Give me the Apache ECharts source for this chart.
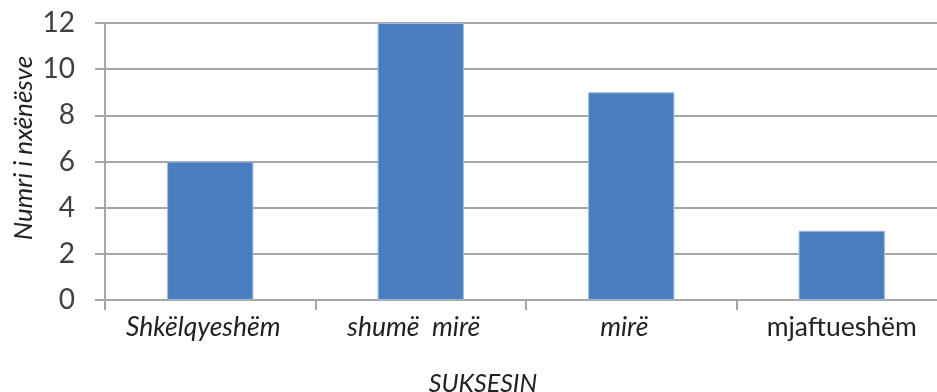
<!DOCTYPE html>
<html>
<head>
<meta charset="utf-8">
<script src="https://cdn.jsdelivr.net/npm/echarts@6/dist/echarts.min.js"></script>
<style>
  html, body { margin: 0; padding: 0; background: #fff; overflow: hidden; width: 937px; height: 392px; }
  /* canvas is a little wider than the page: the plot runs off the right edge */
  #chart { width: 947px; height: 392px; }
</style>
</head>
<body>
<div id="chart"></div>
<script>
// Grades and number of pupils in each
const categories = ['Shkëlqyeshëm', 'shumë  mirë', 'mirë', 'mjaftueshëm'];
const pupils = [6, 12, 9, 3];
const yTicks = { min: 0, max: 12, interval: 2 };
const yTitle = 'Numri i nxënësve';
const xTitle = 'SUKSESIN';

const FONT = 'Lato';
const TEXT = '#222222';
const GRID = '#a6a6a6';

const chart = echarts.init(document.getElementById('chart'), null, { renderer: 'canvas' });
chart.setOption({
  animation: false,
  backgroundColor: '#ffffff',
  grid: { left: 105, top: 23, right: 0, bottom: 92, containLabel: false },
  title: {
    text: xTitle,
    left: 478, top: 366,
    textAlign: 'center',
    textStyle: { fontFamily: FONT, fontStyle: 'italic', fontWeight: 'normal', fontSize: 25, color: TEXT }
  },
  graphic: [{
    type: 'text',
    x: 24, y: 148,
    rotation: Math.PI / 2,
    style: {
      text: yTitle,
      fontFamily: FONT, fontStyle: 'italic', fontSize: 26, fill: TEXT,
      align: 'center', verticalAlign: 'middle'
    }
  }],
  xAxis: {
    type: 'category',
    data: categories,
    axisLine: { show: true, lineStyle: { color: GRID, width: 2 } },
    axisTick: { show: true, length: 10, lineStyle: { color: GRID, width: 2 } },
    axisLabel: {
      interval: 0,
      margin: 14,
      fontFamily: FONT, fontSize: 26.5, color: TEXT,
      formatter: function (v, i) { return i === 3 ? v : '{it|' + v + '}'; },
      rich: { it: { fontFamily: FONT, fontSize: 26.5, fontStyle: 'italic', color: TEXT, padding: [0, 14, 0, 0] } }
    }
  },
  yAxis: {
    type: 'value',
    min: yTicks.min, max: yTicks.max, interval: yTicks.interval,
    axisLine: { show: true, lineStyle: { color: GRID, width: 2 } },
    axisTick: { show: true, length: 10, lineStyle: { color: GRID, width: 2 } },
    axisLabel: { margin: 30, fontFamily: FONT, fontSize: 28, color: '#404040' },
    splitLine: { show: true, lineStyle: { color: GRID, width: 2 } }
  },
  series: [{
    type: 'bar',
    data: pupils,
    barCategoryGap: '59%',
    itemStyle: { color: '#4a7ebf', borderColor: '#9dbbe0', borderWidth: 1 }
  }]
});
</script>
</body>
</html>
